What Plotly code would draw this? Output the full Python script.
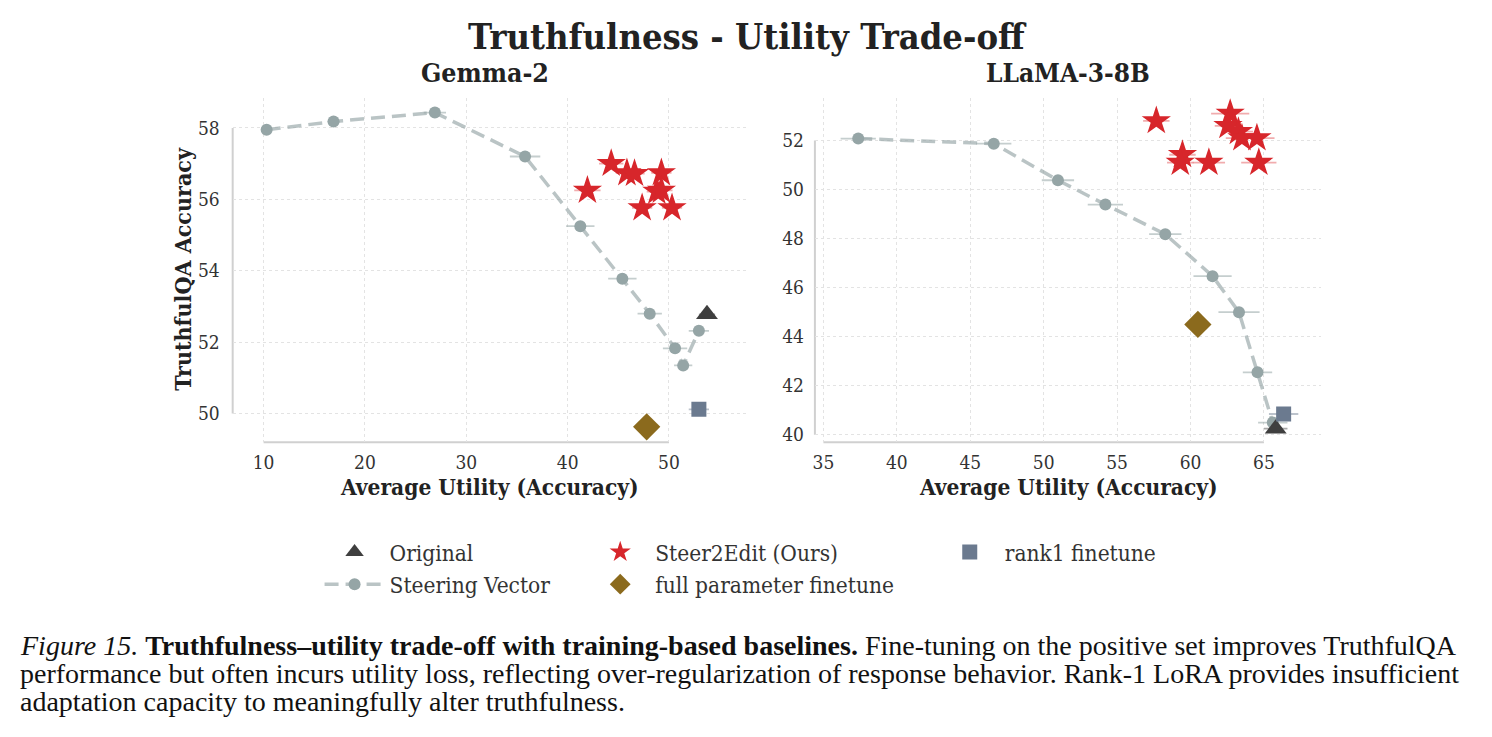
import plotly.graph_objects as go

# ---------------- data ----------------
# Gemma-2
g_sv_x = [10.3, 16.9, 26.9, 35.8, 41.25, 45.4, 48.1, 50.6, 51.4, 52.95]
g_sv_y = [57.95, 58.18, 58.43, 57.2, 55.25, 53.78, 52.8, 51.83, 51.35, 52.32]
g_sv_err = [0.3, 0.6, 1.1, 1.5, 1.4, 1.4, 1.2, 1.2, 0.9, 1.0]
g_star_x = [44.3, 45.85, 46.6, 49.25, 41.95, 48.8, 49.25, 47.35, 50.3]
g_star_y = [57.0, 56.74, 56.72, 56.74, 56.25, 56.22, 56.25, 55.76, 55.76]
g_star_err = [1.2, 1.1, 1.0, 1.0, 1.3, 1.0, 1.1, 1.0, 1.0]
g_orig = (53.75, 52.78, 0.8)
g_rank1 = (52.95, 50.12, 1.0)
g_full = (47.8, 49.63, 0.5)

# LLaMA-3-8B
l_sv_x = [37.37, 46.6, 50.97, 54.2, 58.28, 61.5, 63.3, 64.56, 65.6]
l_sv_y = [52.08, 51.87, 50.38, 49.39, 48.18, 46.47, 45.0, 42.55, 40.5]
l_sv_err = [1.2, 1.2, 1.1, 1.2, 1.1, 1.3, 1.4, 1.0, 1.0]
l_star_x = [57.67, 62.7, 62.55, 63.26, 63.5, 64.52, 59.45, 59.3, 61.25, 64.65]
l_star_y = [52.8, 53.1, 52.6, 52.36, 52.1, 52.1, 51.42, 51.1, 51.1, 51.1]
l_star_err = [0.9, 1.3, 0.9, 1.0, 1.1, 1.2, 0.9, 0.9, 1.1, 1.2]
l_orig = (65.8, 40.25, 0.8)
l_rank1 = (66.34, 40.85, 1.0)
l_full = (60.5, 44.5, 0.5)

g_xticks = [10, 20, 30, 40, 50]
g_yticks = [50, 52, 54, 56, 58]
l_xticks = [35, 40, 45, 50, 55, 60, 65]
l_yticks = [40, 42, 44, 46, 48, 50, 52]

# ---------------- style ----------------
FONT = "DejaVu Serif Condensed, DejaVu Serif"
SV_COL = "#95a5a6"
SV_LINE = "rgba(149,165,166,0.65)"
SV_ERR = "rgba(149,165,166,0.55)"
STAR_COL = "#d7262b"
STAR_ERR = "rgba(225,70,75,0.45)"
ORIG_COL = "#3f3f3f"
RANK_COL = "#6b7a8f"
FULL_COL = "#8b6a1d"

W, H = 1492, 737
L_DOM = [231 / W, 745 / W]
R_DOM = [814 / W, 1321 / W]
Y_DOM = [1 - 444 / H, 1 - 98 / H]

fig = go.Figure()


def add_panel(xa, ya, sv_x, sv_y, sv_err, st_x, st_y, st_err, orig, rank1, full, show):
    fig.add_trace(go.Scatter(
        x=sv_x, y=sv_y, mode="lines+markers", name="Steering Vector",
        line=dict(color=SV_LINE, width=3.5, dash="14px,7px"),
        marker=dict(color=SV_COL, size=12),
        error_x=dict(type="data", array=sv_err, color=SV_ERR, thickness=1.8, width=0),
        xaxis=xa, yaxis=ya, showlegend=show, legend="legend", legendgroup="sv", legendrank=2))
    fig.add_trace(go.Scatter(
        x=st_x, y=st_y, mode="markers", name="Steer2Edit (Ours)",
        marker=dict(color=STAR_COL, size=22, symbol="star", line=dict(width=0)),
        error_x=dict(type="data", array=st_err, color=STAR_ERR, thickness=1.8, width=0),
        xaxis=xa, yaxis=ya, showlegend=show, legend="legend2", legendgroup="st", legendrank=1))
    fig.add_trace(go.Scatter(
        x=[orig[0]], y=[orig[1]], mode="markers", name="Original",
        marker=dict(color=ORIG_COL, size=19, symbol="triangle-up"),
        error_x=dict(type="data", array=[orig[2]], color="rgba(63,63,63,0.45)", thickness=1.8, width=0),
        xaxis=xa, yaxis=ya, showlegend=show, legend="legend", legendgroup="orig", legendrank=1))
    fig.add_trace(go.Scatter(
        x=[rank1[0]], y=[rank1[1]], mode="markers", name="rank1 finetune",
        marker=dict(color=RANK_COL, size=15, symbol="square"),
        error_x=dict(type="data", array=[rank1[2]], color="rgba(107,122,143,0.45)", thickness=1.8, width=0),
        xaxis=xa, yaxis=ya, showlegend=show, legend="legend3", legendgroup="rank", legendrank=1))
    fig.add_trace(go.Scatter(
        x=[full[0]], y=[full[1]], mode="markers", name="full parameter finetune",
        marker=dict(color=FULL_COL, size=21, symbol="diamond"),
        error_x=dict(type="data", array=[full[2]], color="rgba(139,106,29,0.4)", thickness=1.5, width=0),
        xaxis=xa, yaxis=ya, showlegend=show, legend="legend2", legendgroup="full", legendrank=2))


add_panel("x", "y", g_sv_x, g_sv_y, g_sv_err, g_star_x, g_star_y, g_star_err,
          g_orig, g_rank1, g_full, True)
add_panel("x2", "y2", l_sv_x, l_sv_y, l_sv_err, l_star_x, l_star_y, l_star_err,
          l_orig, l_rank1, l_full, False)

axis_common = dict(
    showgrid=True, gridcolor="#e3e3e3", griddash="dot", gridwidth=1,
    zeroline=False, showline=False, ticks="",
    tickfont=dict(family=FONT, size=19, color="#333333"),
)

leg_common = dict(y=1 - 533 / H, xanchor="left", yanchor="top",
                  font=dict(family=FONT, size=22.5, color="#333333"),
                  bgcolor="rgba(0,0,0,0)", itemwidth=60, tracegroupgap=0)

fig.update_layout(
    width=W, height=H,
    margin=dict(l=0, r=0, t=0, b=0),
    paper_bgcolor="white", plot_bgcolor="white",
    font=dict(family=FONT, color="#333333"),
    xaxis=dict(domain=L_DOM, range=[6.95, 57.6], tickvals=g_xticks, anchor="y",
               ticklabelstandoff=7, **axis_common),
    yaxis=dict(domain=Y_DOM, range=[49.2, 58.85], tickvals=g_yticks, anchor="x",
               ticklabelstandoff=12, **axis_common),
    xaxis2=dict(domain=R_DOM, range=[34.42, 68.9], tickvals=l_xticks, anchor="y2",
                ticklabelstandoff=7, **axis_common),
    yaxis2=dict(domain=Y_DOM, range=[39.7, 53.75], tickvals=l_yticks, anchor="x2",
                ticklabelstandoff=10, **axis_common),
    legend=dict(x=318 / W, **leg_common),
    legend2=dict(x=584 / W, **leg_common),
    legend3=dict(x=934 / W, **leg_common),
)

# trimmed spines
spine = dict(color="#d0d0d0", width=2)
fig.add_shape(type="line", xref="x", yref="paper", x0=g_xticks[0], x1=g_xticks[-1],
              y0=Y_DOM[0], y1=Y_DOM[0], line=spine, layer="below")
fig.add_shape(type="line", xref="paper", yref="y", x0=L_DOM[0], x1=L_DOM[0],
              y0=g_yticks[0], y1=g_yticks[-1], line=spine, layer="below")
fig.add_shape(type="line", xref="x2", yref="paper", x0=l_xticks[0], x1=l_xticks[-1],
              y0=Y_DOM[0], y1=Y_DOM[0], line=spine, layer="below")
fig.add_shape(type="line", xref="paper", yref="y2", x0=R_DOM[0], x1=R_DOM[0],
              y0=l_yticks[0], y1=l_yticks[-1], line=spine, layer="below")

ann = []
ann.append(dict(text="<b>Truthfulness - Utility Trade-off</b>", x=0.5, y=1 - 36 / H,
                font=dict(family=FONT, size=36, color="#222222")))
ann.append(dict(text="<b>Gemma-2</b>", x=sum(L_DOM) / 2 - 4 / W, y=1 - 73 / H,
                font=dict(family=FONT, size=26.5, color="#222222")))
ann.append(dict(text="<b>LLaMA-3-8B</b>", x=sum(R_DOM) / 2, y=1 - 73 / H,
                font=dict(family=FONT, size=26, color="#222222")))
ann.append(dict(text="<b>Average Utility (Accuracy)</b>", x=sum(L_DOM) / 2, y=1 - 489 / H,
                font=dict(family=FONT, size=22.5, color="#222222")))
ann.append(dict(text="<b>Average Utility (Accuracy)</b>", x=sum(R_DOM) / 2, y=1 - 489 / H,
                font=dict(family=FONT, size=22.5, color="#222222")))
ann.append(dict(text="<b>TruthfulQA Accuracy</b>", x=181 / W, y=1 - 270 / H, textangle=-90,
                font=dict(family=FONT, size=23, color="#222222")))

CAP = "Liberation Serif"
cap_lines = [
    "<i>Figure 15.</i> <b>Truthfulness–utility trade-off with training-based baselines.</b> "
    "Fine-tuning on the positive set improves TruthfulQA",
    "performance but often incurs utility loss, reflecting over-regularization of response behavior. "
    "Rank-1 LoRA provides insufficient",
    "adaptation capacity to meaningfully alter truthfulness.",
]
for i, line in enumerate(cap_lines):
    ann.append(dict(text=line, x=16 / W, y=1 - (648 + 28 * i) / H, xanchor="left",
                    font=dict(family=CAP, size=28, color="#111111")))

for a in ann:
    a.setdefault("xanchor", "center")
    a.update(xref="paper", yref="paper", showarrow=False, yanchor="middle")
    fig.add_annotation(**a)

fig.write_html("out.html")
